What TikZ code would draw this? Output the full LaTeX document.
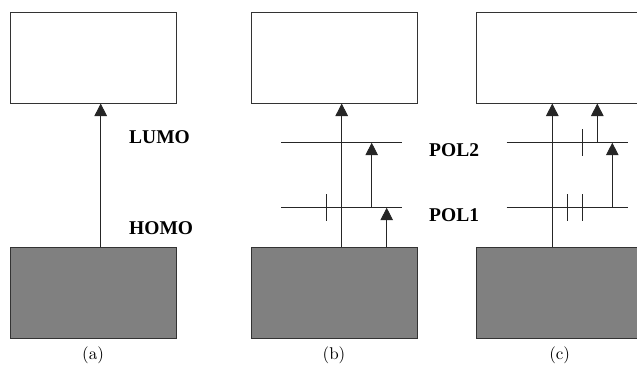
\documentclass[tikz,border=0pt]{standalone}
\usepackage{fontspec}
\newfontfamily\labelfont{Liberation Serif}
\newfontfamily\capfont[Extension=.otf]{lmroman10-regular}
\usetikzlibrary{arrows.meta}
\begin{document}
\begin{tikzpicture}[
        x=1pt,y=-1pt,
        band/.style={
            draw=black!80,line width=1pt,inner sep=0pt,
            minimum width=166pt,minimum height=91pt
        },
        lumoband/.style={band,fill=white},
        homoband/.style={band,fill=black!50},
        level/.style={draw=black!85,line width=0.9pt},
        trans/.style={level,-{Triangle[width=12.5pt,length=12.5pt]}},
        lbl/.style={font=\labelfont\bfseries\fontsize{19.5}{20}\selectfont,inner sep=0pt,anchor=west},
        caption/.style={font=\capfont\fontsize{17}{18}\selectfont,inner sep=0pt}
    ]
\useasboundingbox (0,0) rectangle (637,375);
% Bands
\foreach\n/\x in {a/93,b/334,c/559.7}{
    \node[lumoband] (lumo\n) at (\x,57.5) {};
    \node[homoband] (homo\n) at (\x,292.5) {};
    \node[caption] (cap\n) at (\x,355) {(\n)};
}
% Levels
\foreach\n/\x in {b/341.5,c/567.2}{
    \coordinate (pol2\n) at (\x,142.7);
    \coordinate (pol1\n) at (\x,207.7);
    \draw[level] ([xshift=-60.5pt]pol2\n) -- ([xshift=60.5pt]pol2\n);
    \draw[level] ([xshift=-60.5pt]pol1\n) -- ([xshift=60.5pt]pol1\n);
}
% Spins
\draw[level] ([shift={(-14.8,-13.5)}]pol1b) -- ++(0,27);
\foreach\s in {0.1,15.1}{
    \draw[level] ([shift={(\s,-13.5)}]pol1c) -- ++(0,27);
}
\draw[level] ([shift={(15.1,-13.5)}]pol2c) -- ++(0,27);
% Transitions
\draw[trans] ([xshift=7.7pt]homoa.north) -- ([xshift=7.7pt]lumoa.south);
\draw[trans] ([xshift=7.7pt]homob.north) -- ([xshift=7.7pt]lumob.south);
\draw[trans] ([xshift=30.2pt]pol1b) -- ([xshift=30.2pt]pol2b);
\draw[trans] ([xshift=52.7pt]homob.north) -- ([xshift=45.2pt]pol1b);
\draw[trans] ([xshift=-7.4pt]homoc.north) -- ([xshift=-7.4pt]lumoc.south);
\draw[trans] ([xshift=45.1pt]pol1c) -- ([xshift=45.1pt]pol2c);
\draw[trans] ([xshift=30.1pt]pol2c) -- ([xshift=37.6pt]lumoc.south);
% Labels
\node[lbl] (lumo) at (129,137) {LUMO};
\node[lbl] (homo) at (129,228) {HOMO};
\node[lbl] (pol2) at (429,150) {POL2};
\node[lbl] (pol1) at (429,215) {POL1};
\end{tikzpicture}
\end{document}
